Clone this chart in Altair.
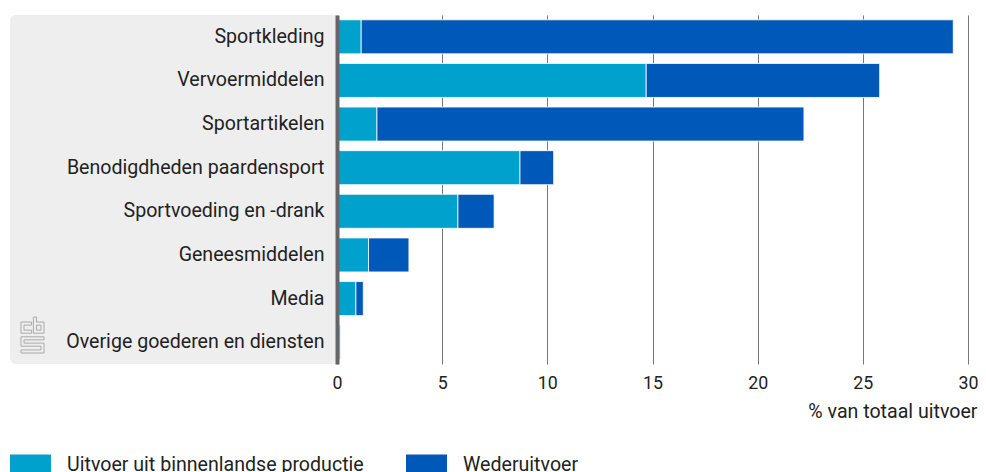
import altair as alt
import pandas as pd

categories = ["Sportkleding", "Vervoermiddelen", "Sportartikelen", "Benodigdheden paardensport",
              "Sportvoeding en -drank", "Geneesmiddelen", "Media", "Overige goederen en diensten"]
binnenlands = [1.15, 14.7, 1.9, 8.7, 5.75, 1.5, 0.9, 0.1]
wederuitvoer = [28.15, 11.1, 20.3, 1.6, 1.72, 1.92, 0.35, 0.05]
series = ["Uitvoer uit binnenlandse productie", "Wederuitvoer"]
colors = ["#00a1cd", "#0058b8"]
ticks = [0, 5, 10, 15, 20, 25, 30]

rows = []
for c, a, b in zip(categories, binnenlands, wederuitvoer):
    rows.append({"cat": c, "serie": series[0], "order": 0, "v": a})
    rows.append({"cat": c, "serie": series[1], "order": 1, "v": b})
df = pd.DataFrame(rows)

FONT = "Roboto"
FS = 19.6
TXT = "#222222"
W, H = 631, 349
LOGO = ("M-.64,-.72 H-.05 V-.55 H-.47 V-.27 H-.05 V-.1 H-.64 Z "
        "M.05,-1 H.22 V-.72 H.64 V-.1 H.05 Z M.22,-.55 H.47 V-.27 H.22 Z "
        "M-.64,.1 H.64 V.27 H-.47 V.45 H.64 V1 H-.64 V.83 H.47 V.62 H-.64 Z")

one = pd.DataFrame({"a": [0]})
panel = alt.Chart(one).mark_rect(
    color="#eeeeee", cornerRadiusTopLeft=6, cornerRadiusBottomLeft=6
).encode(x=alt.value(-327), x2=alt.value(0), y=alt.value(0), y2=alt.value(H))

logo = alt.Chart(one).mark_point(
    shape=LOGO, size=1296, filled=False, stroke="#aaaaaa", strokeWidth=1, opacity=1
).encode(x=alt.value(-304.5), y=alt.value(320))

bars = alt.Chart(df).mark_bar(stroke="white", strokeWidth=0.8).encode(
    x=alt.X("v:Q", stack="zero", scale=alt.Scale(domain=[0, 30], nice=False),
            axis=alt.Axis(values=ticks, grid=True, gridColor="#777777", gridWidth=1,
                          domain=False, ticks=False, labelFont=FONT, labelFontSize=17.8, labelColor=TXT,
                          labelFlush=False, labelPadding=10, title="% van totaal uitvoer", titleFont=FONT,
                          titleFontSize=FS, titleFontWeight="normal", titleColor=TXT, titleAnchor="end",
                          titleAlign="right", titleBaseline="middle", titleX=640, titleY=47, zindex=0)),
    y=alt.Y("cat:N", sort=categories, scale=alt.Scale(paddingInner=0.22, paddingOuter=0.11),
            axis=alt.Axis(title=None, domainColor="#666666", domainWidth=4, ticks=False, labelFont=FONT,
                          labelFontSize=FS, labelColor=TXT, labelPadding=13, labelLimit=320, zindex=1)),
    color=alt.Color("serie:N", sort=series, scale=alt.Scale(domain=series, range=colors),
                    legend=alt.Legend(title=None, orient="none", direction="horizontal", legendX=-327, legendY=429,
                                      symbolType="M-1,-0.5 H1 V0.5 H-1 Z", symbolSize=1681, symbolStrokeWidth=0,
                                      labelFont=FONT, labelFontSize=FS, labelColor=TXT, columnPadding=42,
                                      labelOffset=16, symbolOpacity=1, labelLimit=400, padding=0)),
    order=alt.Order("order:Q"),
)

chart = alt.layer(panel, bars, logo).properties(
    width=W, height=H,
    autosize=alt.AutoSizeParams(type="none"),
    padding={"left": 329, "top": 7, "right": 10, "bottom": 108},
).configure_view(stroke=None)

chart.save("out.html", embed_options={"renderer": "svg", "actions": False})
